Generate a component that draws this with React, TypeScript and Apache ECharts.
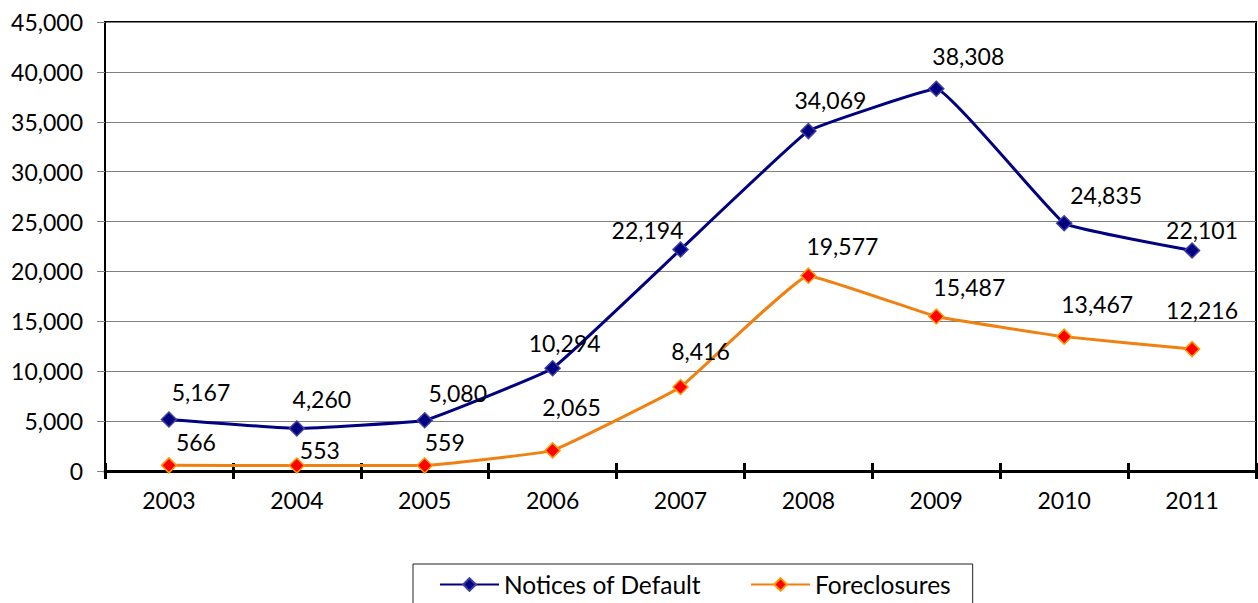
import React, { useEffect, useRef } from "react";
import * as echarts from "echarts";

const years = ["2003", "2004", "2005", "2006", "2007", "2008", "2009", "2010", "2011"];
const noticesOfDefault = [5167, 4260, 5080, 10294, 22194, 34069, 38308, 24835, 22101];
const foreclosures = [566, 553, 559, 2065, 8416, 19577, 15487, 13467, 12216];
const yTicks = { min: 0, max: 45000, interval: 5000 };

// label offsets (px) relative to each point, as placed in the original
const noticeLabelOffsets = [[32, -27], [25, -29], [33, -27], [12, -25], [-33, -20], [22, -31], [32, -33], [42, -28], [10, -20]];
const foreLabelOffsets = [[27, -23], [23, -15], [20, -23], [19, -43], [20, -36], [34, -30], [33, -29], [33, -33], [10, -39]];

const FONT = "Lato, 'Open Sans', sans-serif";
const fmt = (v: number) => v.toLocaleString("en-US");

export default function App() {
  const ref = useRef<HTMLDivElement>(null);
  useEffect(() => {
    if (!ref.current) return;
    const chart = echarts.init(ref.current, undefined, { renderer: "svg" });
    const labelStyle = { show: true, position: "inside", color: "#000", fontSize: 23, fontFamily: FONT, formatter: (p: any) => fmt(p.value) };
    chart.setOption({
      animation: false,
      textStyle: { fontFamily: FONT },
      grid: { left: 105, top: 22, right: 2, bottom: 132, show: true, borderColor: "#000", borderWidth: 2 },
      legend: {
        left: 413,
        top: 564,
        padding: [8, 22, 20, 26],
        borderColor: "#222",
        borderWidth: 1,
        itemWidth: 59,
        itemHeight: 16,
        itemGap: 49,
        textStyle: { fontSize: 24.5, color: "#000", fontFamily: FONT },
        data: ["Notices of Default", "Foreclosures"],
      },
      xAxis: [
        {
          type: "category",
          data: years,
          boundaryGap: true,
          position: "bottom",
          axisLine: { lineStyle: { color: "#000", width: 3 } },
          axisTick: { show: true, interval: 0, length: 8, lineStyle: { color: "#000", width: 3 } },
          axisLabel: { color: "#000", fontSize: 23, margin: 17, fontFamily: FONT },
          splitLine: { show: false },
        },
        {
          type: "category",
          data: years,
          boundaryGap: true,
          position: "bottom",
          axisLine: { show: false },
          axisTick: { show: true, inside: true, interval: 0, length: 8, lineStyle: { color: "#000", width: 3 } },
          axisLabel: { show: false },
          splitLine: { show: false },
        },
      ],
      yAxis: {
        type: "value",
        min: yTicks.min,
        max: yTicks.max,
        interval: yTicks.interval,
        axisLine: { show: true, lineStyle: { color: "#000", width: 2 } },
        axisTick: { show: true, length: 8, lineStyle: { color: "#808080", width: 1 } },
        axisLabel: { color: "#000", fontSize: 23, margin: 22, fontFamily: FONT, formatter: (v: number) => fmt(v) },
        splitLine: { show: true, lineStyle: { color: "#808080", width: 1 } },
      },
      series: [
        {
          name: "Notices of Default",
          type: "line",
          smooth: 0.08,
          xAxisIndex: 0,
          symbol: "diamond",
          symbolSize: 15,
          lineStyle: { color: "#000080", width: 3 },
          itemStyle: { color: "#000080", borderColor: "#4040a0", borderWidth: 1.5 },
          label: labelStyle,
          data: noticesOfDefault.map((v, i) => ({ value: v, label: { offset: noticeLabelOffsets[i] } })),
        },
        {
          name: "Foreclosures",
          type: "line",
          smooth: 0.08,
          xAxisIndex: 0,
          symbol: "diamond",
          symbolSize: 15,
          lineStyle: { color: "#F08010", width: 3 },
          itemStyle: { color: "#FF0000", borderColor: "#FF9900", borderWidth: 1.5 },
          label: labelStyle,
          data: foreclosures.map((v, i) => ({ value: v, label: { offset: foreLabelOffsets[i] } })),
        },
      ],
    });
    return () => chart.dispose();
  }, []);
  return <div ref={ref} style={{ position: "fixed", left: 0, top: 0, width: 1258, height: 603, background: "#fff" }} />;
}
